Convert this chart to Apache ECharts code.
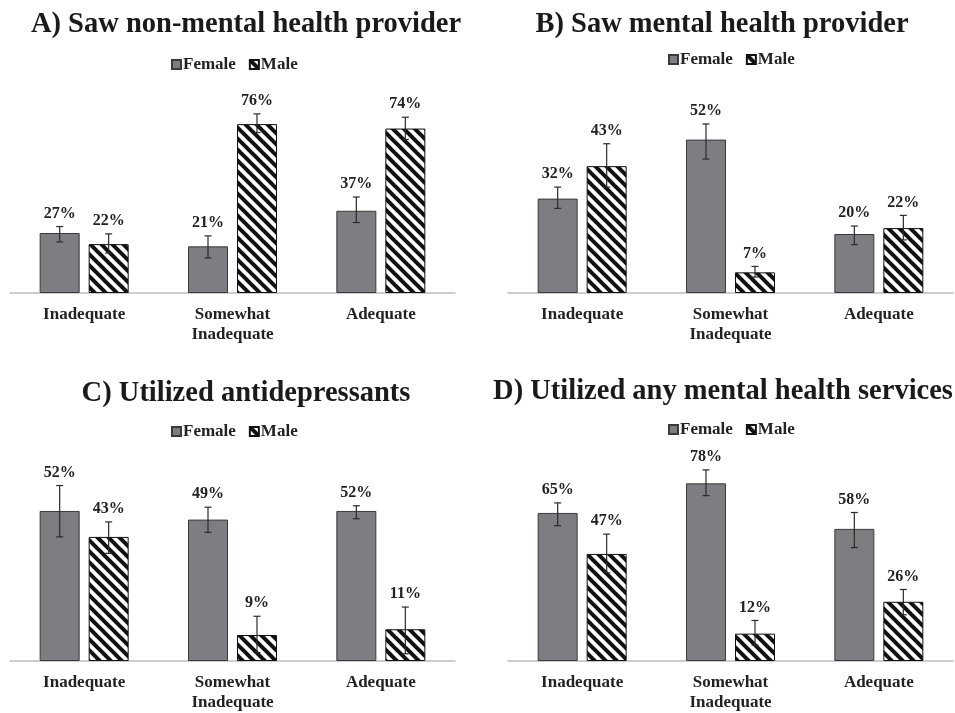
<!DOCTYPE html>
<html>
<head>
<meta charset="utf-8">
<script src="https://cdn.jsdelivr.net/npm/echarts@6/dist/echarts.min.js"></script>
<style>html,body{margin:0;padding:0;background:#fff}#c{width:955px;height:713px}</style>
</head>
<body>
<div id="c"></div>
<script>
const categories = ['Inadequate', 'Somewhat\nInadequate', 'Adequate'];
const panelTitles = ['A) Saw non-mental health provider', 'B) Saw mental health provider', 'C) Utilized antidepressants', 'D) Utilized any mental health services'];
const legendNames = ['Female', 'Male'];

const aFemale = [27, 21, 37];
const aFemaleLow = [23.0, 15.8, 31.7];
const aFemaleHigh = [29.9, 25.7, 43.2];
const aMale = [22, 76, 74];
const aMaleLow = [18.0, 72.2, 69.1];
const aMaleHigh = [26.6, 80.6, 79.1];

const bFemale = [32, 52, 20];
const bFemaleLow = [28.7, 45.4, 16.4];
const bFemaleHigh = [35.9, 57.3, 22.7];
const bMale = [43, 7, 22];
const bMaleLow = [35.9, 5.4, 18.0];
const bMaleHigh = [50.6, 9.0, 26.3];

const cFemale = [52, 49, 52];
const cFemaleLow = [43.0, 44.6, 49.3];
const cFemaleHigh = [60.8, 53.3, 53.8];
const cMale = [43, 9, 11];
const cMaleLow = [37.3, 2.9, 2.5];
const cMaleHigh = [48.2, 15.5, 18.7];

const dFemale = [65, 78, 58];
const dFemaleLow = [59.4, 72.6, 49.8];
const dFemaleHigh = [69.4, 83.9, 65.2];
const dMale = [47, 12, 26];
const dMaleLow = [38.7, 7.0, 20.3];
const dMaleHigh = [55.7, 17.8, 31.4];

const yMax = [90, 70, 70, 90];

const panels = [
  {f: aFemale, fl: aFemaleLow, fh: aFemaleHigh, m: aMale, ml: aMaleLow, mh: aMaleHigh},
  {f: bFemale, fl: bFemaleLow, fh: bFemaleHigh, m: bMale, ml: bMaleLow, mh: bMaleHigh},
  {f: cFemale, fl: cFemaleLow, fh: cFemaleHigh, m: cMale, ml: cMaleLow, mh: cMaleHigh},
  {f: dFemale, fl: dFemaleLow, fh: dFemaleHigh, m: dMale, ml: dMaleLow, mh: dMaleHigh}
];

// layout (styles / positions)
const FONT = '"Liberation Serif", "Times New Roman", serif';
const TXT = '#222222';
const grids = [
  {left: 10, width: 445, top: 93, height: 200},
  {left: 508, width: 445, top: 86.5, height: 206.5},
  {left: 10, width: 445, top: 459, height: 204.4},
  {left: 508, width: 445, top: 456, height: 207}
];
const titlePos = [{x: 246, y: 10}, {x: 722, y: 10}, {x: 246, y: 379}, {x: 723, y: 377}];
const legendPos = [{x: 171, y: 56}, {x: 668, y: 51}, {x: 171, y: 423}, {x: 668, y: 421}];
const BAR_W = 40, BAR_GAP = 9;

// stripe pattern
function stripeCanvas() {
  const P = 11;
  const cv = document.createElement('canvas');
  cv.width = P; cv.height = P;
  const ctx = cv.getContext('2d');
  ctx.fillStyle = '#ffffff';
  ctx.fillRect(0, 0, P, P);
  ctx.strokeStyle = '#111111';
  ctx.lineWidth = 4;
  for (const k of [-P, 0, P]) {
    ctx.beginPath();
    ctx.moveTo(-2, -2 + k);
    ctx.lineTo(P + 2, P + 2 + k);
    ctx.stroke();
  }
  return cv;
}
const stripe = stripeCanvas();

function errRender(offset) {
  return function (params, api) {
    const base = api.coord([api.value(0), api.value(1)]);
    const x = base[0] + offset;
    const yLo = api.coord([api.value(0), api.value(2)])[1];
    const yHi = api.coord([api.value(0), api.value(3)])[1];
    const cap = 3.5;
    const ls = {stroke: '#2a2a2a', lineWidth: 1.2};
    return {
      type: 'group',
      children: [
        {type: 'line', shape: {x1: x, y1: yHi, x2: x, y2: yLo}, style: ls},
        {type: 'line', shape: {x1: x - cap, y1: yHi, x2: x + cap, y2: yHi}, style: ls},
        {type: 'line', shape: {x1: x - cap, y1: yLo, x2: x + cap, y2: yLo}, style: ls},
        {type: 'text', style: {
          text: api.value(1) + '%', x: x, y: yHi - 5,
          align: 'center', verticalAlign: 'bottom',
          font: 'bold 16px ' + FONT, fill: TXT
        }}
      ]
    };
  };
}

const option = {
  backgroundColor: '#ffffff',
  animation: false,
  title: panelTitles.map((t, i) => ({
    text: t, left: titlePos[i].x, top: titlePos[i].y, textAlign: 'center',
    padding: 0,
    textStyle: {fontFamily: FONT, fontWeight: 'bold', fontSize: 28.5, color: '#1a1a1a'}
  })),
  legend: legendPos.map((p, i) => ({
    data: legendNames, left: p.x, top: p.y, padding: 0,
    itemWidth: 9, itemHeight: 9, itemGap: 13, icon: 'rect',
    textStyle: {fontFamily: FONT, fontWeight: 'bold', fontSize: 17, color: TXT, padding: [0, 0, 0, -3]},
    selectedMode: false
  })),
  grid: grids.map(g => Object.assign({containLabel: false}, g)),
  xAxis: grids.map((g, i) => ({
    type: 'category', gridIndex: i, data: categories,
    axisLine: {show: true, lineStyle: {color: '#bdbdbd', width: 1.5}},
    axisTick: {show: false},
    axisLabel: {fontFamily: FONT, fontWeight: 'bold', fontSize: 17, color: TXT, lineHeight: 20, margin: 12, interval: 0}
  })),
  yAxis: grids.map((g, i) => ({
    type: 'value', gridIndex: i, min: 0, max: yMax[i], show: false,
    splitLine: {show: false}
  })),
  series: []
};

panels.forEach((p, i) => {
  option.series.push({
    name: 'Female', type: 'bar', xAxisIndex: i, yAxisIndex: i, data: p.f,
    barWidth: BAR_W, barGap: (BAR_GAP / BAR_W * 100) + '%',
    itemStyle: {color: '#7d7e82', borderColor: '#3a3a3a', borderWidth: 1}
  });
  option.series.push({
    name: 'Male', type: 'bar', xAxisIndex: i, yAxisIndex: i, data: p.m,
    barWidth: BAR_W, barGap: (BAR_GAP / BAR_W * 100) + '%',
    itemStyle: {color: {image: stripe, repeat: 'repeat'}, borderColor: '#111111', borderWidth: 1}
  });
  const off = (BAR_W + BAR_GAP) / 2;
  option.series.push({
    type: 'custom', xAxisIndex: i, yAxisIndex: i, z: 5,
    renderItem: errRender(-off),
    data: p.f.map((v, k) => [k, v, p.fl[k], p.fh[k]])
  });
  option.series.push({
    type: 'custom', xAxisIndex: i, yAxisIndex: i, z: 5,
    renderItem: errRender(off),
    data: p.m.map((v, k) => [k, v, p.ml[k], p.mh[k]])
  });
});

const chart = echarts.init(document.getElementById('c'), null, {renderer: 'canvas'});
chart.setOption(option);
</script>
</body>
</html>
